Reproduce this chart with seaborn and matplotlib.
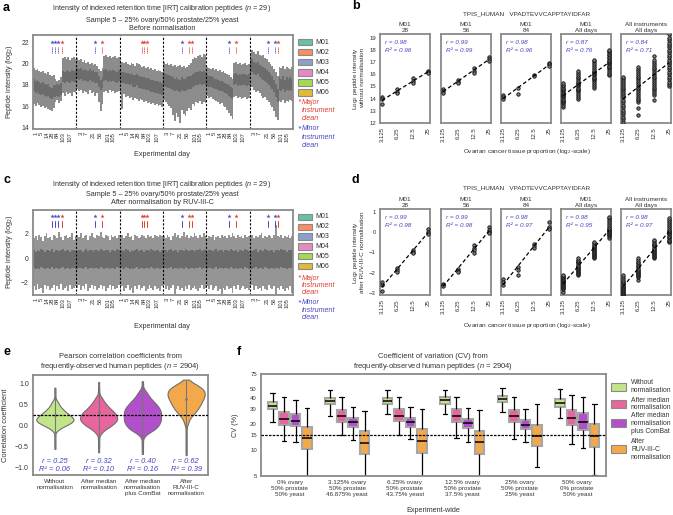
import numpy as np
import pandas as pd
import matplotlib
matplotlib.use("Agg")
import matplotlib.pyplot as plt
from matplotlib.patches import Rectangle
from matplotlib.ticker import NullLocator
import seaborn as sns

sns.set_theme(style="white")
plt.rcParams["font.family"] = ["Liberation Sans", "DejaVu Sans"]
plt.rcParams["mathtext.fontset"] = "custom"
plt.rcParams["mathtext.rm"] = "Liberation Sans"
plt.rcParams["mathtext.it"] = "Liberation Sans:italic"

# ------------------------------------------------------------------ data
instruments = ["M01", "M02", "M03", "M04", "M05", "M06"]
inst_colors = ["#66c2a5", "#fc8d62", "#8da0cb", "#e78ac3", "#a6d854", "#e0bb35"]

days_odd = ["1", "5", "14", "28", "84", "103", "107"]
days_even = ["3", "7", "21", "56", "101", "105"]
run_of_day_odd = [1, 4, 7, 10, 13, 16, 20]
run_of_day_even = [2, 5, 9, 13, 17, 20]

# clean events: (instrument index, run position, kind)
clean_events = [
    (0, 9.9, "minor"), (0, 11.7, "minor"), (0, 13.5, "minor"), (0, 15.7, "major"),
    (1, 9.8, "minor"), (1, 13.5, "major"),
    (2, 11.7, "major"), (2, 13.2, "major"), (2, 14.8, "major"),
    (3, 9.8, "minor"), (3, 13.9, "major"), (3, 15.7, "major"),
    (4, 12.0, "minor"), (4, 15.8, "major"),
    (5, 9.8, "minor"), (5, 13.5, "minor"), (5, 15.3, "major"),
]

# panel a: before normalisation (per run: whisker low/high and median)
a_hi = [
    [19.6,19.4,19.5,19.3,19.2,19.3,19.1,19.0,19.2,18.9,18.8,18.9,18.6,18.4,18.5,18.7,20.5,20.6,20.4,20.6,20.3,20.5,20.6,20.4],
    [20.5,20.3,20.4,20.2,20.3,20.1,20.2,20.0,20.1,19.9,20.0,19.8,19.5,19.3,19.6,20.7,20.8,20.6,20.7,20.5,20.6,20.7,20.5,20.6],
    [20.3,20.2,20.1,20.2,20.0,19.9,20.1,20.0,19.8,20.1,20.0,19.9,19.7,19.8,19.6,19.7,19.5,19.6,19.4,19.5,19.3,19.4,19.3,19.2],
    [20.2,20.0,20.1,19.9,20.0,19.8,19.9,19.7,19.8,19.9,19.7,19.8,19.6,19.7,19.9,20.1,20.4,20.6,20.5,20.7,20.8,20.6,20.9,20.8],
    [19.7,19.6,19.5,19.6,19.4,19.5,19.3,19.4,19.2,19.3,19.1,19.0,18.9,18.7,18.6,20.1,20.2,20.0,20.1,19.9,20.0,20.1,19.9,20.0],
    [21.0,21.3,21.1,20.9,21.2,20.8,20.7,20.8,20.5,20.4,20.2,20.0,19.8,19.5,19.2,18.8,19.7,19.6,19.8,19.5,19.7,19.6,19.5,19.7],
]
a_lo = [
    [16.2,16.0,16.3,16.1,15.9,16.0,15.8,15.9,15.7,15.6,15.5,15.8,16.4,16.6,16.3,16.5,17.2,17.0,17.3,17.1,17.2,17.0,17.3,17.2],
    [17.6,17.4,17.5,17.2,17.4,17.3,17.1,17.5,17.2,17.3,17.0,17.2,16.4,15.5,16.2,17.3,17.4,17.2,17.5,17.3,17.4,17.2,17.3,17.4],
    [17.2,15.7,17.1,16.9,17.0,16.8,16.9,16.6,16.8,16.7,16.5,16.7,16.6,16.4,16.5,16.3,16.4,16.2,16.3,16.1,16.2,16.0,16.1,15.9],
    [16.6,16.4,16.2,16.0,15.8,15.2,14.6,15.4,15.0,14.4,15.6,15.3,15.1,15.5,15.8,15.6,16.2,16.0,16.4,16.3,16.5,16.2,16.4,16.3],
    [17.0,16.8,16.9,16.7,16.6,16.5,16.4,16.2,16.3,16.0,15.9,15.6,15.4,15.1,14.8,16.9,17.0,16.8,16.9,16.7,16.8,16.9,16.7,16.8],
    [17.6,17.8,17.5,17.3,17.4,17.2,17.0,16.8,16.9,16.6,16.4,16.1,15.9,15.5,15.0,14.7,16.5,16.4,16.6,16.3,16.5,16.4,16.6,16.5],
]
a_med = [
    [18.0,17.8,17.9,17.7,17.6,17.7,17.5,17.4,17.5,17.3,17.2,17.4,17.4,17.5,17.4,17.6,18.8,18.7,18.9,18.8,18.7,18.9,18.8,18.8],
    [19.1,19.0,19.1,18.9,19.0,18.9,18.8,19.0,18.8,18.9,18.7,18.7,18.3,18.0,18.2,18.9,19.0,18.8,18.9,18.8,18.9,18.8,18.7,18.9],
    [18.8,18.7,18.7,18.6,18.6,18.5,18.6,18.4,18.4,18.5,18.3,18.3,18.2,18.2,18.1,18.1,18.0,17.9,17.9,17.8,17.8,17.7,17.7,17.6],
    [18.5,18.4,18.3,18.3,18.2,18.1,18.0,18.1,18.0,17.9,18.1,18.0,18.0,18.1,18.2,18.2,18.4,18.5,18.6,18.6,18.7,18.6,18.7,18.6],
    [18.4,18.3,18.3,18.2,18.1,18.1,18.0,17.9,17.9,17.8,17.7,17.6,17.5,17.3,17.2,18.5,18.6,18.4,18.5,18.4,18.5,18.5,18.4,18.5],
    [19.7,19.8,19.6,19.5,19.6,19.3,19.2,19.1,19.0,18.8,18.6,18.4,18.2,17.9,17.5,17.0,18.1,18.0,18.2,17.9,18.1,18.0,18.1,18.0],
]
a_box_half = [0.55, 0.5, 0.55, 0.6, 0.5, 0.6]

# panel c: after RUV-III-C
c_hi = [
    [1.6,1.8,1.5,1.9,1.7,1.4,1.8,2.0,1.6,1.7,1.5,1.9,1.8,1.6,2.1,1.7,1.5,1.8,1.9,1.6,1.7,2.0,1.5,1.8],
    [1.9,1.7,2.0,1.6,1.8,1.9,1.5,1.8,2.0,1.7,1.6,1.9,1.8,2.1,1.7,1.6,1.9,1.8,1.5,1.9,1.7,1.8,1.6,1.9],
    [1.7,1.9,1.6,1.8,2.0,1.7,1.8,1.5,1.9,1.8,1.6,1.7,1.9,1.8,1.6,1.9,1.7,1.8,1.6,1.9,1.8,1.7,1.9,1.8],
    [1.8,1.6,1.9,1.7,1.5,1.8,2.0,1.7,1.9,1.6,1.8,2.1,1.7,1.9,1.6,1.8,1.7,2.0,1.8,1.6,1.9,1.7,2.0,1.8],
    [1.6,1.8,1.7,1.9,1.5,1.7,1.8,1.6,1.9,1.7,1.8,1.6,1.9,1.7,2.0,1.8,1.6,1.9,1.7,1.8,1.6,1.9,1.7,1.8],
    [1.7,1.9,1.6,1.8,1.7,1.9,2.0,1.6,1.8,1.7,1.9,1.8,1.6,1.9,2.7,1.8,1.7,1.9,1.6,1.8,1.7,1.9,1.6,1.8],
]
c_lo = [
    [-2.3,-2.6,-2.1,-2.5,-2.4,-2.8,-2.2,-2.5,-2.3,-2.6,-2.4,-2.2,-2.7,-2.3,-2.5,-2.1,-2.6,-2.4,-2.3,-2.7,-2.2,-2.5,-2.4,-2.3],
    [-2.4,-2.2,-2.6,-2.3,-2.5,-2.1,-2.7,-2.4,-2.2,-2.5,-2.3,-2.6,-2.4,-2.2,-2.5,-2.3,-2.7,-2.4,-2.2,-2.6,-2.3,-2.5,-2.4,-2.2],
    [-2.5,-2.3,-2.7,-2.4,-2.2,-2.6,-2.4,-2.8,-2.3,-2.5,-2.2,-2.6,-2.4,-2.3,-2.7,-2.5,-2.2,-2.4,-2.6,-2.3,-2.5,-2.4,-2.7,-2.3],
    [-2.2,-2.5,-2.3,-2.6,-2.4,-2.2,-2.9,-2.5,-2.3,-2.6,-2.4,-2.7,-2.3,-2.5,-2.2,-2.6,-2.4,-2.3,-2.5,-2.7,-2.4,-2.2,-2.5,-2.4],
    [-2.3,-2.5,-2.2,-2.6,-2.4,-2.3,-2.7,-2.5,-2.9,-2.4,-2.6,-2.3,-2.5,-2.4,-2.8,-2.3,-2.5,-2.2,-2.6,-2.4,-2.3,-2.5,-2.4,-2.6],
    [-2.4,-2.2,-2.6,-2.3,-2.5,-2.4,-2.7,-2.3,-2.5,-2.6,-2.2,-2.4,-2.5,-2.3,-3.2,-2.4,-2.6,-2.3,-2.5,-2.7,-2.4,-2.6,-2.3,-2.8],
]
c_med = [
    [-0.1,-0.2,-0.05,-0.15,0.0,-0.1,-0.2,-0.05,-0.1,-0.15,0.0,-0.2,-0.1,-0.05,-0.15,-0.1,0.0,-0.15,-0.1,-0.05,-0.2,-0.1,-0.05,-0.15],
    [-0.15,-0.05,-0.1,-0.2,-0.05,0.0,-0.15,-0.1,-0.05,-0.2,-0.1,-0.05,-0.15,0.0,-0.1,-0.15,-0.05,-0.1,-0.2,-0.05,-0.1,-0.15,0.0,-0.1],
    [-0.05,-0.1,-0.15,0.0,-0.1,-0.2,-0.05,-0.15,-0.1,0.0,-0.15,-0.1,-0.05,-0.2,-0.1,-0.05,-0.15,0.0,-0.1,-0.15,-0.05,-0.1,-0.2,-0.05],
    [-0.1,-0.05,-0.2,-0.1,0.0,-0.15,-0.1,-0.05,-0.2,-0.05,-0.1,-0.15,0.0,-0.1,-0.15,-0.05,-0.1,-0.2,-0.05,-0.1,0.0,-0.15,-0.1,-0.05],
    [-0.2,-0.1,-0.05,-0.15,-0.1,0.0,-0.15,-0.05,-0.1,-0.2,-0.05,-0.1,-0.15,0.0,-0.1,-0.15,-0.05,-0.2,-0.1,-0.05,-0.15,0.0,-0.1,-0.15],
    [-0.05,-0.15,-0.1,0.0,-0.2,-0.1,-0.05,-0.15,0.0,-0.1,-0.15,-0.05,-0.1,-0.2,-0.05,-0.1,-0.15,0.0,-0.1,-0.05,-0.2,-0.1,-0.05,-0.1],
]
c_box_half = [0.72, 0.72, 0.72, 0.72, 0.72, 0.72]

# panels b & d: peptide intensity vs ovarian proportion
proportions = [3.125, 6.25, 12.5, 25]
prop_labels = ["3.125", "6.25", "12.5", "25"]
bd_titles = ["M01\n28", "M01\n56", "M01\n84", "M01\nAll days", "All instruments\nAll days"]

b_m01_d28 = [[14.15, 13.95, 13.55], [14.75, 14.55, 14.45], [15.65, 15.45, 15.25], [16.3, 16.2, 16.1]]
b_m01_d56 = [[14.75, 14.6, 14.5], [15.5, 15.4, 15.3], [16.5, 16.3, 16.1], [17.4, 17.25, 17.1]]
b_m01_d84 = [[14.3, 14.1, 13.95], [14.9, 14.35], [15.9, 15.85], [16.95, 16.8, 16.7]]
b_m01_all = [
    [13.3,13.45,13.6,13.7,13.8,13.9,14.0,14.1,14.2,14.3,14.4,14.5,14.6,14.7,14.8,14.9,15.0,15.15,15.3],
    [14.0,14.15,14.3,14.45,14.6,14.7,14.8,14.9,15.0,15.1,15.2,15.3,15.4,15.5,15.65,15.8,15.95,16.1,16.3],
    [14.9,15.05,15.2,15.35,15.5,15.6,15.7,15.8,15.9,16.0,16.1,16.2,16.3,16.45,16.6,16.75,16.9,17.05,17.2],
    [15.9,16.05,16.2,16.35,16.5,16.6,16.7,16.8,16.9,17.0,17.1,17.2,17.3,17.45,17.6,17.7,17.8,17.9,18.0],
]
b_all_all = [
    [12.1,12.3,12.5,12.7,12.9,13.1,13.3,13.5,13.7,13.9,14.1,14.3,14.45,14.6,14.75,14.9,15.05,15.2,15.35,15.5,15.65,15.8],
    [12.65,13.25,13.7,13.85,14.0,14.15,14.3,14.45,14.6,14.75,14.9,15.05,15.2,15.35,15.5,15.65,15.8,15.95,16.1,16.25,16.4,16.6],
    [13.85,14.3,14.45,14.6,14.75,14.9,15.05,15.2,15.35,15.5,15.65,15.8,15.95,16.1,16.25,16.4,16.55,16.7,16.85,17.0,17.2,17.5],
    [15.0,15.2,15.4,15.6,15.8,16.0,16.2,16.4,16.6,16.8,17.0,17.2,17.4,17.6,17.8,18.0,18.2,18.4,18.6,18.8,19.0,19.3],
]
b_r = ["0.98", "0.99", "0.98", "0.87", "0.84"]
b_r2 = ["0.96", "0.99", "0.96", "0.76", "0.71"]

d_m01_d28 = [[-2.45, -2.6, -2.9], [-1.75, -1.85, -1.95], [-0.9, -1.0, -1.05], [0.15, 0.0, -0.1]]
d_m01_d56 = [[-2.55, -2.6, -2.65], [-1.8, -1.9, -1.95], [-0.65, -0.8, -0.9, -1.05], [0.25, 0.1, 0.0, -0.05]]
d_m01_d84 = [[-2.3, -2.45, -2.6], [-1.7, -1.85, -2.1], [-0.6, -0.7, -0.8], [0.5, 0.25, 0.15]]
d_m01_all = [
    [-2.95,-2.8,-2.75,-2.7,-2.65,-2.6,-2.55,-2.5,-2.45,-2.4,-2.35,-2.3,-2.25,-2.2,-2.15,-2.1],
    [-2.1,-2.05,-2.0,-1.95,-1.9,-1.85,-1.8,-1.75,-1.7,-1.65,-1.6,-1.55,-1.5,-1.45,-1.4,-1.3],
    [-1.3,-1.25,-1.2,-1.15,-1.1,-1.05,-1.0,-0.95,-0.9,-0.85,-0.8,-0.75,-0.7,-0.65,-0.55,-0.5],
    [-0.3,-0.2,-0.15,-0.1,-0.05,0.0,0.05,0.1,0.15,0.2,0.3,0.4,0.5,0.6,0.7,0.75],
]
d_all_all = [
    [-3.1,-3.05,-3.0,-2.95,-2.9,-2.85,-2.8,-2.75,-2.7,-2.65,-2.6,-2.5,-2.45,-2.4,-2.3,-2.2,-2.1],
    [-2.35,-2.2,-2.15,-2.1,-2.05,-2.0,-1.95,-1.9,-1.85,-1.8,-1.7,-1.65,-1.6,-1.55,-1.5,-1.4,-1.3],
    [-1.3,-1.25,-1.2,-1.15,-1.1,-1.05,-1.0,-0.95,-0.9,-0.85,-0.8,-0.7,-0.65,-0.6,-0.55,-0.45,-0.4],
    [-0.5,-0.45,-0.4,-0.3,-0.25,-0.2,-0.1,-0.05,0.0,0.05,0.1,0.2,0.3,0.4,0.5,0.6,0.7],
]
d_r = ["0.99", "0.99", "0.98", "0.98", "0.98"]
d_r2 = ["0.98", "0.98", "0.97", "0.95", "0.97"]

# panels e & f: normalisation methods
methods = ["Without", "Median", "ComBat", "RUV"]
method_labels = ["Without\nnormalisation", "After median\nnormalisation",
                 "After median\nnormalisation\nplus ComBat", "After\nRUV-III-C\nnormalisation"]
method_colors = ["#c3e58a", "#e8659d", "#b24fca", "#f3a94b"]

# correlation histograms: (value bins, counts)
corr_bins = {
    "Without": ([-0.55,-0.45,-0.35,-0.25,-0.15,-0.1,-0.05,0.0,0.05,0.1,0.15,0.2,0.25,0.3,0.35,0.4,0.45,0.5,0.55,0.6,0.7,0.8,0.9],
                [1,1,1,1,1,3,6,10,14,17,18,16,14,11,9,7,5,4,3,2,1,1,1]),
    "Median": ([-0.63,-0.5,-0.4,-0.3,-0.2,-0.15,-0.1,-0.05,0.0,0.05,0.1,0.15,0.2,0.25,0.3,0.35,0.4,0.45,0.5,0.55,0.6,0.65,0.7,0.8,0.9,1.03],
               [1,1,1,1,2,3,5,8,11,13,15,16,16,15,14,12,10,8,7,5,4,3,2,1,1,1]),
    "ComBat": ([-0.67,-0.55,-0.45,-0.35,-0.25,-0.2,-0.15,-0.1,-0.05,0.0,0.05,0.1,0.15,0.2,0.25,0.3,0.35,0.4,0.45,0.5,0.55,0.6,0.65,0.7,0.75,0.8,0.85,0.95,1.05],
               [1,1,1,1,2,3,6,9,11,12,13,14,14,14,14,14,14,13,12,11,9,8,6,5,4,3,2,1,1]),
    "RUV": ([-0.7,-0.6,-0.5,-0.4,-0.3,-0.2,-0.1,0.0,0.05,0.1,0.15,0.2,0.25,0.3,0.35,0.4,0.45,0.5,0.55,0.6,0.65,0.7,0.75,0.8,0.85,0.9,0.95,1.0,1.05,1.09],
            [1,1,1,1,1,1,1,1,2,2,3,4,6,8,9,11,12,13,14,15,16,17,17,17,16,14,11,7,4,2]),
}
corr_r = ["0.25", "0.32", "0.40", "0.62"]
corr_r_value = [0.25, 0.32, 0.40, 0.62]
corr_r2 = ["0.06", "0.10", "0.16", "0.39"]

mixtures = ["0% ovary\n50% prostate\n50% yeast", "3.125% ovary\n50% prostate\n46.875% yeast",
            "6.25% ovary\n50% prostate\n43.75% yeast", "12.5% ovary\n50% prostate\n37.5% yeast",
            "25% ovary\n50% prostate\n25% yeast", "50% ovary\n0% prostate\n50% yeast"]
# five-number summaries (whisker low, Q1, median, Q3, whisker high) of CV (%)
cv_without = [[21.1,29.3,32.0,35.6,45.7],[24.9,33.5,36.5,39.3,48.7],[26.1,33.5,36.5,40.0,48.9],
              [26.1,34.1,37.2,40.7,49.0],[27.2,35.6,39.0,41.8,51.4],[23.4,31.5,35.0,38.3,50.0]]
cv_median = [[12.8,19.6,22.8,27.5,40.7],[15.0,20.8,24.5,28.7,40.7],[14.7,21.4,24.9,29.3,40.7],
             [13.7,21.1,24.5,29.3,41.0],[13.5,20.8,24.5,28.7,40.7],[11.7,19.6,23.4,28.7,42.9]]
cv_combat = [[12.2,18.7,21.8,26.1,37.2],[13.1,18.2,20.8,23.4,31.5],[13.5,18.2,20.8,23.4,31.2],
             [12.2,17.9,20.5,22.8,30.1],[12.2,17.5,19.6,22.0,29.3],[10.5,17.1,20.8,26.8,40.7]]
cv_ruv = [[4.8,10.2,13.7,18.2,30.6],[4.8,8.9,12.0,16.7,28.0],[4.8,9.3,12.8,17.5,29.3],
          [4.8,8.9,12.2,16.7,28.5],[6.3,11.0,14.6,19.6,33.5],[5.2,10.7,14.6,20.0,34.1]]

# ------------------------------------------------------------------ layout helpers
W, H = 673, 515
fig = plt.figure(figsize=(W / 100, H / 100), dpi=100)
FRAME = "#8a8a8a"
BLUE = "#4646c0"
RED = "#e23a2a"
TXT = "#333333"
TS = 4.3   # tick label size
LS = 5.0   # label size


def px_axes(l, t, r, b):
    return fig.add_axes([l / W, 1 - b / H, (r - l) / W, (b - t) / H])


def ftext(x, y, s, **kw):
    kw.setdefault("fontsize", LS)
    kw.setdefault("va", "center")
    kw.setdefault("color", TXT)
    return fig.text(x / W, 1 - y / H, s, **kw)


def style_frame(ax, size=TS):
    for sp in ax.spines.values():
        sp.set_visible(True)
        sp.set_color(FRAME)
        sp.set_linewidth(1.3)
    ax.tick_params(axis="both", length=1.5, width=0.5, color="#555555",
                   labelsize=size, pad=1.5, labelcolor=TXT)


def fig_patch(x, y, w, h, color):
    fig.patches.append(Rectangle((x / W, 1 - (y + h / 2) / H), w / W, h / H,
                                 transform=fig.transFigure, facecolor=color,
                                 edgecolor="#8a8a8a", linewidth=0.8))


# ------------------------------------------------------------------ panels a & c
def run_panel(ax, lo, hi, med, half, whisk_c, box_c, star_y, mark_y, mark_ls):
    n = len(lo[0])
    for i in range(len(instruments)):
        edges = np.arange(n + 1) + i * n - 0.5
        l = np.asarray(lo[i]); h = np.asarray(hi[i]); m = np.asarray(med[i])
        ax.stairs(h, edges, baseline=l, fill=True, color=whisk_c, linewidth=0)
        ax.stairs(m + half[i], edges, baseline=m - half[i], fill=True, color=box_c, linewidth=0)
    for i in range(1, len(instruments)):
        ax.axvline(i * n - 0.5, color="black", ls=(0, (2, 1.5)), lw=0.8)
    for inst, pos, kind in clean_events:
        col = RED if kind == "major" else BLUE
        x = inst * n + pos
        ax.scatter([x], [star_y], marker="*", s=10, color=col, linewidth=0, zorder=4)
        ax.plot([x, x], list(mark_y), color=col, lw=0.7, ls=mark_ls, zorder=4)
    pos_list, labs = [], []
    for i in range(len(instruments)):
        idxs, days = (run_of_day_odd, days_odd) if i % 2 == 0 else (run_of_day_even, days_even)
        pos_list += [i * n + k for k in idxs]
        labs += days
    ax.set_xlim(-0.5, len(instruments) * n - 0.5)
    ax.set_xticks(pos_list)
    ax.set_xticklabels(labs, rotation=90)
    style_frame(ax, size=4.9)
    ax.tick_params(axis="x", length=0, pad=2, labelsize=4.2)


def instrument_legend(y0, step, note_y, note_step):
    for k, (name, col) in enumerate(zip(instruments, inst_colors)):
        y = y0 + k * step
        fig_patch(298, y, 14, 6.5, col)
        ftext(315, y, name, fontsize=5.0)
    for j, (word, col) in enumerate([("Major", RED), ("Minor", BLUE)]):
        yb = note_y[j]
        ftext(297.5, yb, "*", fontsize=6, color=col, style="italic")
        for q, line in enumerate([word, "instrument", "clean"]):
            ftext(302, yb + q * note_step, line, fontsize=5.1, color=col, style="italic")


ax_a = px_axes(33, 35, 293, 129)
run_panel(ax_a, a_lo, a_hi, a_med, a_box_half, "#8c8c8c", "#6c6c6c",
          22.0, (21.0, 21.6), (0, (1, 0.7)))
ax_a.set_ylim(13.85, 22.7)
ax_a.set_yticks([14, 16, 18, 20, 22])
ftext(162, 8, "Intensity of indexed retention time [iRT] calibration peptides ($n$ = 29)",
      ha="center", fontsize=5.2)
ftext(162, 20, "Sample 5 \u2013 25% ovary/50% prostate/25% yeast", ha="center", fontsize=5.2)
ftext(162, 29, "Before normalisation", ha="center", fontsize=5.2)
ftext(10, 82, "Peptide intensity (log$_2$)", rotation=90, ha="center", fontsize=5.2)
ftext(162, 155, "Experimental day", ha="center", fontsize=5.2)
instrument_legend(42, 10.1, (102, 129), 8.2)

ax_c = px_axes(33, 210, 293, 295)
run_panel(ax_c, c_lo, c_hi, c_med, c_box_half, "#959595", "#6c6c6c",
          3.42, (2.55, 3.02), "-")
ax_c.set_ylim(-3.0, 3.9)
ax_c.set_yticks([-2, 0, 2])
ftext(162, 184, "Intensity of indexed retention time [iRT] calibration peptides ($n$ = 29)",
      ha="center", fontsize=5.2)
ftext(162, 194, "Sample 5 \u2013 25% ovary/50% prostate/25% yeast", ha="center", fontsize=5.2)
ftext(162, 202, "After normalisation by RUV-III-C", ha="center", fontsize=5.2)
ftext(10, 252, "Peptide intensity (log$_2$)", rotation=90, ha="center", fontsize=5.2)
ftext(162, 327, "Experimental day", ha="center", fontsize=5.2)
instrument_legend(217, 9.8, (278, 302.5), 7.5)


# ------------------------------------------------------------------ panels b & d
def scatter_row(top, bottom, sets, ylim, yticks, rs, r2s):
    lefts = [380, 441, 501, 561, 621]
    for k, l in enumerate(lefts):
        ax = px_axes(l, top, l + 50, bottom)
        xs, ys = [], []
        for p, vals in zip(proportions, sets[k]):
            xs += [p] * len(vals)
            ys += list(vals)
        df = pd.DataFrame({"prop": xs, "val": ys})
        ax.set_xscale("log", base=2)
        sns.scatterplot(data=df, x="prop", y="val", ax=ax, s=6, color="#7a7a7a",
                        edgecolor="#111111", linewidth=0.6, zorder=3)
        sns.regplot(data=df, x="prop", y="val", ax=ax, logx=True, scatter=False, ci=None,
                    line_kws=dict(color="black", lw=0.9, ls=(0, (3, 2)), zorder=4))
        ax.set_xlim(2.85, 27.4)
        ax.set_ylim(*ylim)
        ax.set_xticks(proportions)
        ax.set_xticklabels(prop_labels, rotation=90)
        ax.xaxis.set_minor_locator(NullLocator())
        ax.set_yticks(yticks)
        if k > 0:
            ax.set_yticklabels([])
            ax.tick_params(axis="y", length=0)
        ax.set_xlabel("")
        ax.set_ylabel("")
        style_frame(ax)
        ax.set_title(bd_titles[k], fontsize=4.6, pad=1.5, linespacing=1.15, color=TXT)
        ax.text(0.1, 0.9, f"r = {rs[k]}", transform=ax.transAxes, fontsize=4.6,
                style="italic", color=BLUE, va="center")
        ax.text(0.1, 0.81, f"R\u00b2 = {r2s[k]}", transform=ax.transAxes, fontsize=4.6,
                style="italic", color=BLUE, va="center")


scatter_row(34, 123, [b_m01_d28, b_m01_d56, b_m01_d84, b_m01_all, b_all_all],
            (12, 19.3), [12, 13, 14, 15, 16, 17, 18, 19], b_r, b_r2)
ftext(527, 14, "TPIS_HUMAN   VPADTEVVCAPPTAYIDFAR", ha="center", fontsize=4.6)
ftext(358, 78, "Log$_2$ peptide intensity\nwithout normalisation", rotation=90, ha="center",
      fontsize=4.6, linespacing=1.1)
ftext(527, 152, "Ovarian cancer tissue proportion (log$_2$-scale)", ha="center", fontsize=4.6)

scatter_row(209, 295, [d_m01_d28, d_m01_d56, d_m01_d84, d_m01_all, d_all_all],
            (-3.1, 1.13), [-3, -2, -1, 0, 1], d_r, d_r2)
ftext(527, 188, "TPIS_HUMAN   VPADTEVVCAPPTAYIDFAR", ha="center", fontsize=4.6)
ftext(358, 252, "Log$_2$ peptide intensity\nafter RUV-III-C normalisation", rotation=90, ha="center",
      fontsize=4.6, linespacing=1.1)
ftext(527, 326, "Ovarian cancer tissue proportion (log$_2$-scale)", ha="center", fontsize=4.6)

# ------------------------------------------------------------------ panel e
rows = []
for m in methods:
    vals, counts = corr_bins[m]
    for v, c in zip(vals, counts):
        rows += [(m, v)] * c
df_e = pd.DataFrame(rows, columns=["method", "r"])

ax_e = px_axes(33, 375, 208, 475)
sns.violinplot(data=df_e, x="method", y="r", hue="method", order=methods, hue_order=methods,
               palette=method_colors, cut=0, inner=None, density_norm="width", width=0.85,
               bw_adjust=0.55, linewidth=0.8, linecolor="#6e6e6e", saturation=1,
               legend=False, ax=ax_e)
for i, m in enumerate(methods):
    sub = df_e.loc[df_e["method"] == m, "r"]
    ax_e.plot([i, i], [sub.min(), sub.max()], color="#777777", lw=0.8, zorder=3)
    ax_e.scatter([i], [corr_r_value[i]], s=4, color="#777777", zorder=4, linewidth=0)
    ax_e.text(i, -0.86, f"r = {corr_r[i]}", ha="center", va="center", fontsize=5.4,
              style="italic", color=BLUE)
    ax_e.text(i, -1.05, f"R\u00b2 = {corr_r2[i]}", ha="center", va="center", fontsize=5.4,
              style="italic", color=BLUE)
ax_e.axhline(0.25, color="black", ls=(0, (2, 1)), lw=0.9, zorder=5)
ax_e.set_xlim(-0.5, 3.5)
ax_e.set_ylim(-1.17, 1.2)
ax_e.set_yticks([-1.0, -0.5, 0.0, 0.5, 1.0])
ax_e.set_yticklabels(["\u22121.0", "\u22120.5", "0.0", "0.5", "1.0"])
ax_e.set_xticks(range(4))
ax_e.set_xticklabels(method_labels)
ax_e.set_xlabel("")
ax_e.set_ylabel("")
style_frame(ax_e)
ax_e.tick_params(axis="y", labelsize=5.0)
ax_e.tick_params(axis="x", length=0, pad=3, labelsize=4.5)
ftext(120, 357, "Pearson correlation coefficients from", ha="center", fontsize=5.4)
ftext(120, 367, "frequently-observed human peptides ($n$ = 2904)", ha="center", fontsize=5.4)
ftext(6, 425, "Correlation coefficient", rotation=90, ha="center", fontsize=5.4)

# ------------------------------------------------------------------ panel f
rows = []
for m, table in zip(methods, [cv_without, cv_median, cv_combat, cv_ruv]):
    for g, five in zip(mixtures, table):
        for v in five:
            rows.append((g, m, v))
df_f = pd.DataFrame(rows, columns=["mixture", "method", "cv"])

ax_f = px_axes(261, 374, 606, 476)
sns.boxplot(data=df_f, x="mixture", y="cv", hue="method", order=mixtures, hue_order=methods,
            palette=method_colors, whis=(0, 100), width=0.8, gap=0.15, saturation=1,
            log_scale=True, fliersize=0, legend=False, ax=ax_f,
            boxprops=dict(edgecolor="#a6a6a6", linewidth=1.5),
            medianprops=dict(color="black", linewidth=1.1),
            whiskerprops=dict(color="black", linewidth=0.9),
            capprops=dict(color="black", linewidth=0.9))
ax_f.axhline(15, color="black", ls=(0, (2, 1)), lw=0.9, zorder=5)
ax_f.set_ylim(5, 75)
ax_f.set_yticks([5, 10, 15, 20, 30, 40, 50, 75])
ax_f.set_yticklabels(["5", "10", "15", "20", "30", "40", "50", "75"])
ax_f.yaxis.set_minor_locator(NullLocator())
ax_f.set_xlim(-0.5, 5.5)
ax_f.set_xlabel("")
ax_f.set_ylabel("")
style_frame(ax_f)
ax_f.tick_params(axis="x", length=0, pad=3, labelsize=4.5)
ftext(433, 357, "Coefficient of variation (CV) from", ha="center", fontsize=5.4)
ftext(433, 367, "frequently-observed human peptides ($n$ = 2904)", ha="center", fontsize=5.4)
ftext(236, 425, "CV (%)", rotation=90, ha="center", fontsize=5.2)
ftext(433, 511, "Experiment-wide", ha="center", fontsize=5.2)
for y, col, lab in zip([386.7, 404, 423.3, 449.3], method_colors, method_labels):
    fig_patch(611, y, 15, 8, col)
    ftext(631, y, lab, fontsize=4.9, linespacing=1.15)

# ------------------------------------------------------------------ panel letters
for x, y, s in [(3, 8, "a"), (352, 6, "b"), (3, 180, "c"), (352, 180, "d"), (3, 352, "e"), (237, 352, "f")]:
    ftext(x, y, s, fontsize=9, fontweight="bold", color="black")

fig.savefig("out.png", dpi=100)
